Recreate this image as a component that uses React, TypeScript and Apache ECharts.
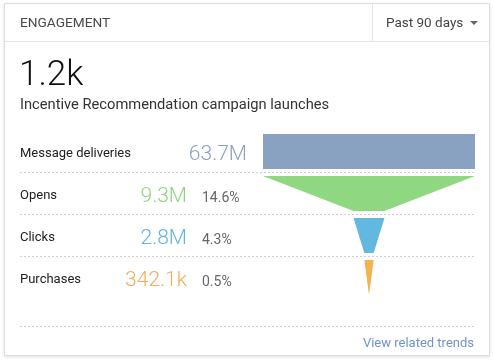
import React, { useEffect, useRef } from "react";
import * as echarts from "echarts";

const title = "ENGAGEMENT";
const periodLabel = "Past 90 days";
const headlineValue = "1.2k";
const headlineCaption = "Incentive Recommendation campaign launches";
const stages = ["Message deliveries", "Opens", "Clicks", "Purchases"];
const counts = [63.7e6, 9.3e6, 2.8e6, 342.1e3];
const countLabels = ["63.7M", "9.3M", "2.8M", "342.1k"];
const percentLabels = ["", "14.6%", "4.3%", "0.5%"];
const stageColors = ["#8AA2C1", "#8FD881", "#63B8E0", "#F6B24F"];
const labelColors = ["#8CA0BF", "#8CD67E", "#62B3E1", "#F5AB5C"];
const linkText = "View related trends";

const FONT = "Roboto, 'Noto Sans', sans-serif";

export default function App() {
  const ref = useRef<HTMLDivElement>(null);
  useEffect(() => {
    document.body.style.margin = "0";
    const chart = echarts.init(ref.current!, null, { renderer: "svg" });

    const rowY = [152.5, 194.5, 236.5, 278.5];
    const sepY = [172.5, 214.5, 256.5, 326.5];

    const graphics: any[] = [
      {
        type: "rect",
        shape: { x: 4.5, y: 3.5, width: 485, height: 352 },
        style: { fill: "#fff", stroke: "#dcdcdc", lineWidth: 1, shadowBlur: 3, shadowColor: "rgba(0,0,0,0.12)", shadowOffsetY: 1 },
        z: -10,
      },
      { type: "line", shape: { x1: 5, y1: 41.5, x2: 489, y2: 41.5 }, style: { stroke: "#e6e6e6", lineWidth: 1 } },
      { type: "line", shape: { x1: 372.5, y1: 4, x2: 372.5, y2: 41 }, style: { stroke: "#e6e6e6", lineWidth: 1 } },
      { type: "text", x: 20, y: 22, style: { text: title, font: `400 13.7px ${FONT}`, fill: "#4a4a4a", textVerticalAlign: "middle" } },
      { type: "text", x: 386, y: 22, style: { text: periodLabel, font: `400 13.5px ${FONT}`, fill: "#444", textVerticalAlign: "middle" } },
      { type: "polygon", shape: { points: [[470, 21], [478, 21], [474, 25]] }, style: { fill: "#666" } },
      { type: "text", x: 19, y: 73, style: { text: headlineValue, font: `300 35px ${FONT}`, fill: "#111", textVerticalAlign: "middle" } },
      { type: "text", x: 20, y: 104, style: { text: headlineCaption, font: `400 14.7px ${FONT}`, fill: "#333", textVerticalAlign: "middle" } },
      { type: "text", x: 474, y: 342, style: { text: linkText, font: `400 13px ${FONT}`, fill: "#6F93D4", textAlign: "right", textVerticalAlign: "middle" } },
    ];
    sepY.forEach((y) => {
      graphics.push({ type: "line", shape: { x1: 20, y1: y, x2: 475, y2: y }, style: { stroke: "#cfcfcf", lineWidth: 1, lineDash: [2, 2] } });
    });
    stages.forEach((s, i) => {
      graphics.push({ type: "text", x: 20, y: rowY[i], style: { text: s, font: `400 13px ${FONT}`, fill: "#222", textVerticalAlign: "middle" } });
      const right = i === 0 ? 247 : 187;
      graphics.push({ type: "text", x: right, y: rowY[i], style: { text: countLabels[i], font: `300 21px ${FONT}`, fill: labelColors[i], textAlign: "right", textVerticalAlign: "middle" } });
      if (percentLabels[i]) {
        graphics.push({ type: "text", x: 202, y: rowY[i] + 2, style: { text: percentLabels[i], font: `400 14px ${FONT}`, fill: "#666", textVerticalAlign: "middle" } });
      }
    });

    const funnelData = stages.map((s, i) => ({
      name: s,
      value: counts[Math.max(i - 1, 0)],
      itemStyle: { color: stageColors[i] },
    }));

    chart.setOption({
      animation: false,
      graphic: graphics,
      series: [
        {
          type: "funnel",
          left: 263,
          top: 134,
          width: 212,
          height: 161,
          min: 0,
          max: counts[0],
          minSize: "0%",
          maxSize: "100%",
          sort: "none",
          gap: 7,
          funnelAlign: "center",
          label: { show: false },
          labelLine: { show: false },
          itemStyle: { borderWidth: 0 },
          emphasis: { disabled: true },
          data: funnelData,
          z: 5,
        },
      ],
    });
    return () => chart.dispose();
  }, []);
  return <div ref={ref} style={{ position: "fixed", left: 0, top: 0, width: 494, height: 363 }} />;
}
